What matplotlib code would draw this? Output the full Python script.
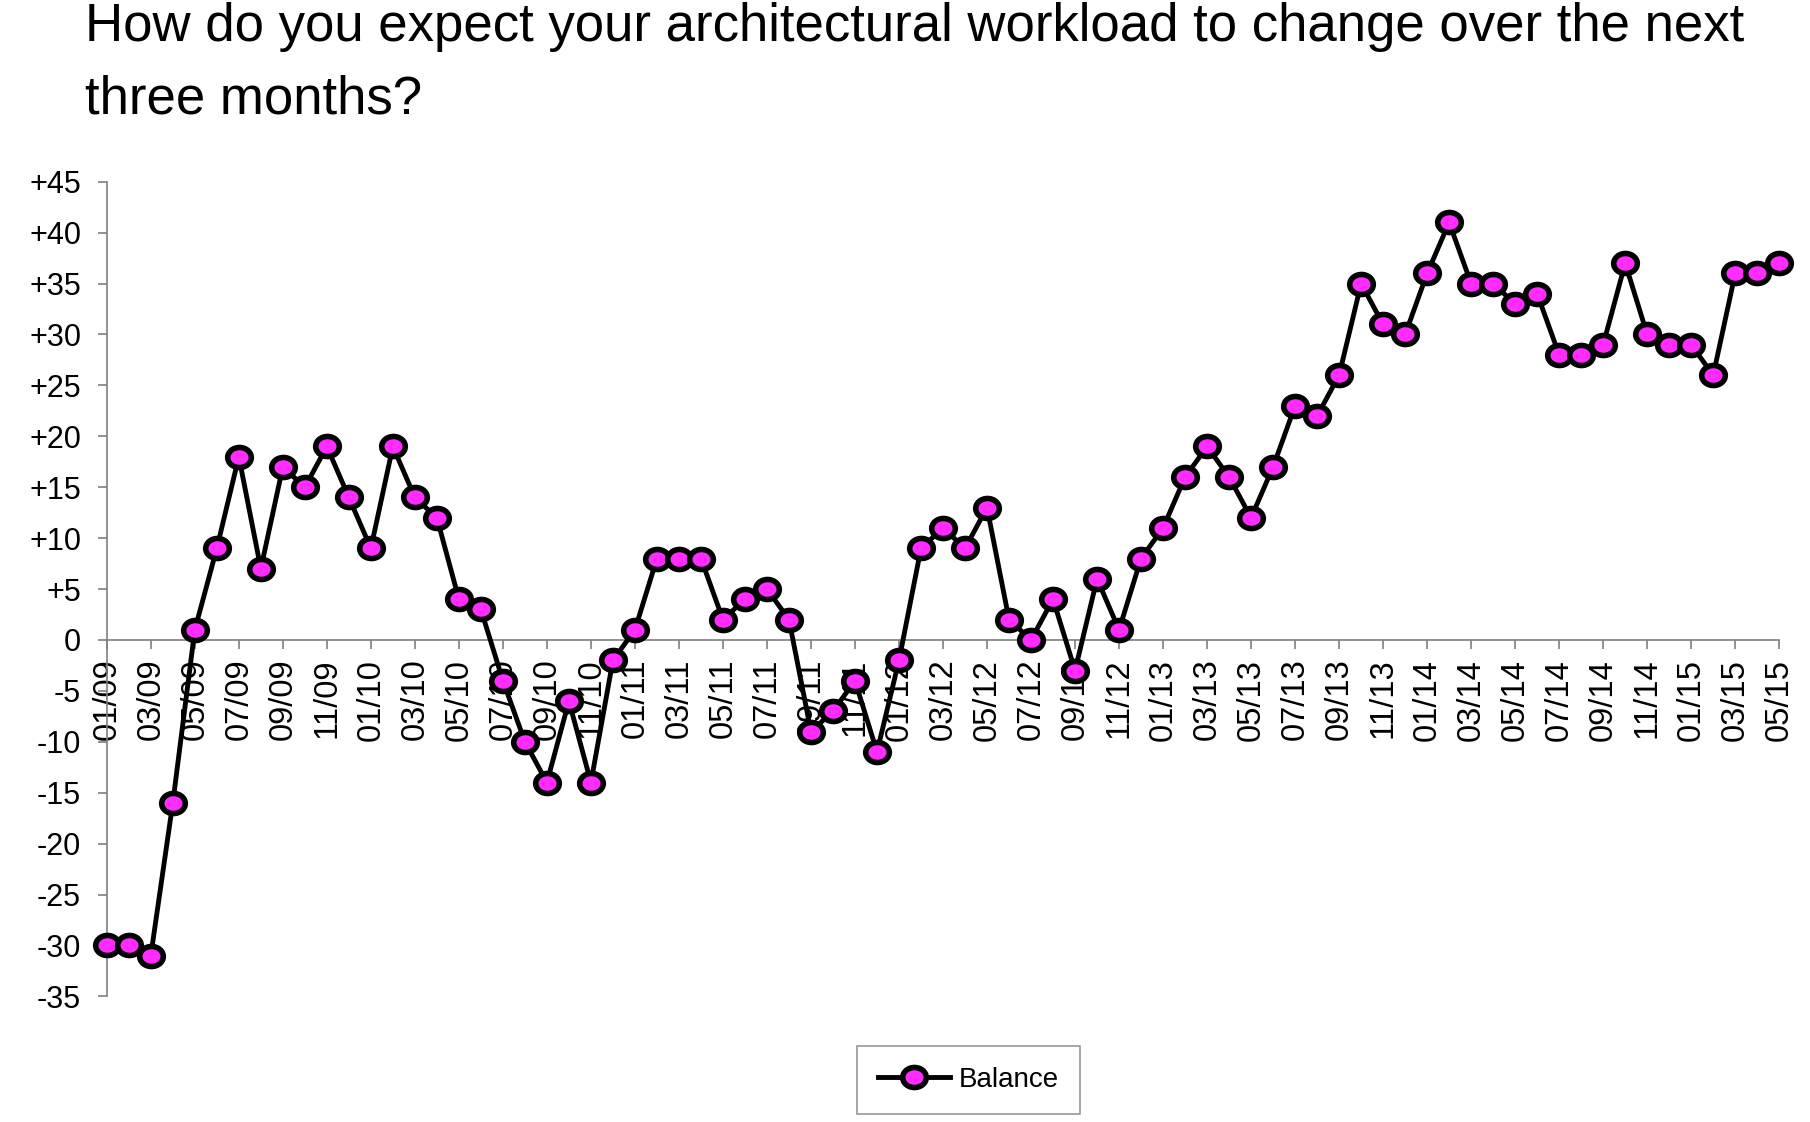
import numpy as np
import matplotlib.pyplot as plt
from matplotlib.path import Path
from matplotlib.transforms import Affine2D

plt.rcParams['font.family'] = ['Liberation Sans', 'DejaVu Sans']

# monthly survey balance, 01/09 .. 05/15
months = [f'{m:02d}/{y:02d}' for y in range(9, 16) for m in range(1, 13)][:77]
balance = [
    -30, -30, -31, -16, 1, 9, 18, 7, 17, 15, 19, 14,      # 2009
    9, 19, 14, 12, 4, 3, -4, -10, -14, -6, -14, -2,       # 2010
    1, 8, 8, 8, 2, 4, 5, 2, -9, -7, -4, -11,              # 2011
    -2, 9, 11, 9, 13, 2, 0, 4, -3, 6, 1, 8,               # 2012
    11, 16, 19, 16, 12, 17, 23, 22, 26, 35, 31, 30,       # 2013
    36, 41, 35, 35, 33, 34, 28, 28, 29, 37, 30, 29,       # 2014
    29, 26, 36, 36, 37,                                   # 2015
]
y_ticks = list(range(-35, 50, 5))

title = 'How do you expect your architectural workload to change over the next\nthree months?'

# slightly flattened circle, like the stretched markers of the original
oval = Affine2D().scale(1.0, 0.85).transform_path(Path.unit_circle())

fig = plt.figure(figsize=(18.1, 11.22), dpi=100)
ax = fig.add_axes([0.059, 0.112, 0.924, 0.726])

x = np.arange(len(balance))
ax.plot(x, balance, color='black', lw=3.5, marker=oval, ms=17,
        mfc='#ff2bff', mec='black', mew=4, label='Balance', zorder=3,
        clip_on=False)

ax.set_xlim(0, len(balance) - 1)
ax.set_ylim(-35, 45)

grey = '#7f7f7f'

# y axis
ax.set_yticks(y_ticks)
ax.set_yticklabels([f'+{v}' if v > 0 else str(v) for v in y_ticks])
ax.tick_params(axis='y', direction='out', length=6.5, width=1.2, color=grey,
               labelsize=22, pad=12)

# x axis sits on zero
ax.spines['bottom'].set_position(('data', 0))
ax.spines['bottom'].set_color(grey)
ax.spines['left'].set_color(grey)
ax.spines['bottom'].set_linewidth(1.2)
ax.spines['left'].set_linewidth(1.2)
ax.spines['top'].set_visible(False)
ax.spines['right'].set_visible(False)
ax.set_xticks(x[::2])
ax.set_xticklabels(months[::2], rotation=90, va='top')
ax.tick_params(axis='x', direction='out', length=6.5, width=1.2, color=grey,
               labelsize=23.5, pad=7)

fig.text(0.047, 0.998, title, ha='left', va='top', fontsize=38,
         linespacing=1.56)

leg = fig.legend(loc='center', bbox_to_anchor=(0.535, 0.0375), fontsize=20,
                 frameon=True, fancybox=False, edgecolor=grey,
                 handlelength=2.6, handletextpad=0.3, borderpad=0.75,
                 borderaxespad=0)
leg.get_frame().set_linewidth(1.2)

fig.savefig('out.png', dpi=100)
